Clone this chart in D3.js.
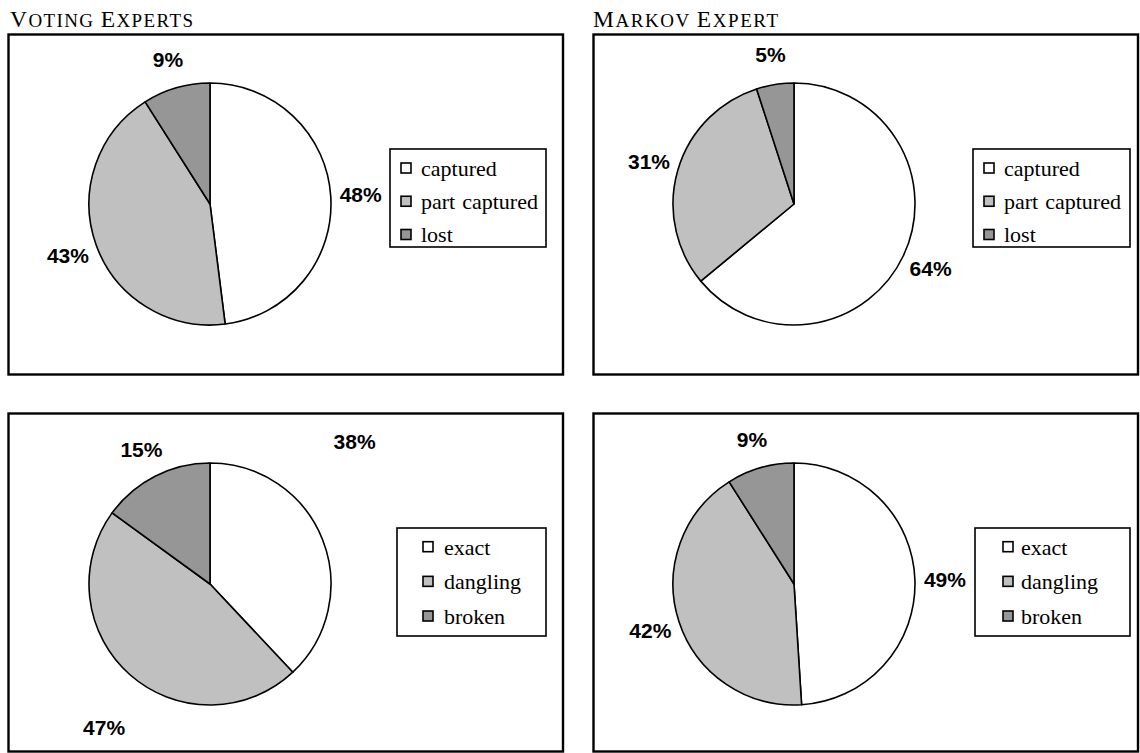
<!DOCTYPE html>
<html>
<head>
<meta charset="utf-8">
<script src="https://cdn.jsdelivr.net/npm/d3@7"></script>
<style>
  body { margin: 0; background: #fff; }
  svg { display: block; }
</style>
</head>
<body>
<div id="chart"></div>
<script>
// data
const columnTitles = ["Voting Experts", "Markov Expert"];
const topCategories = ["captured", "part captured", "lost"];
const bottomCategories = ["exact", "dangling", "broken"];
const votingTop = [48, 43, 9];
const markovTop = [64, 31, 5];
const votingBottom = [38, 47, 15];
const markovBottom = [49, 42, 9];

const width = 1140;
const height = 753;
const radius = 121;
const sliceColors = ["#ffffff", "#c0c0c0", "#969696"];

const svg = d3.select('#chart')
    .append('svg')
    .attr('width', width)
    .attr('height', height)
    .attr('viewBox', [0, 0, width, height]);

// one entry per chart frame
const panels = [
    { values: votingTop, cats: topCategories,
      box: [8.5, 34.5, 563, 374.5], center: [210, 204],
      legend: { x: 390, y: 149, w: 156, h: 98, sw: 11, tx: 31, rows: [19, 85.5] } },
    { values: markovTop, cats: topCategories,
      box: [593.5, 34.5, 1138, 374.5], center: [794, 204],
      legend: { x: 973, y: 149, w: 157, h: 98, sw: 11, tx: 31, rows: [19, 85.5] } },
    { values: votingBottom, cats: bottomCategories,
      box: [8.5, 413.5, 563, 751.5], center: [210, 584],
      legend: { x: 397, y: 528, w: 149, h: 108, sw: 26, tx: 47, rows: [18.7, 88] },
      nudge: { 0: [45.4, 203], 1: [216.5, 178] } },
    { values: markovBottom, cats: bottomCategories,
      box: [593.5, 413.5, 1138, 751.5], center: [794, 584],
      legend: { x: 975, y: 528, w: 155, h: 108, sw: 28, tx: 46, rows: [18.7, 88] } }
];

const pie = d3.pie().sort(null).value(d => d);
const arc = d3.arc().innerRadius(0).outerRadius(radius);
const color = d3.scaleOrdinal().range(sliceColors);

// column titles in small caps
const titleX = [10, 593];
columnTitles.forEach((t, i) => {
    const words = t.split(' ');
    const txt = svg.append('text')
        .attr('x', titleX[i])
        .attr('y', 26.5)
        .attr('font-family', '"Liberation Serif", "Times New Roman", serif')
        .attr('fill', '#000')
        .attr('textLength', i === 0 ? 183 : 185)
        .attr('lengthAdjust', 'spacing');
    words.forEach((w, j) => {
        txt.append('tspan').attr('font-size', 23.5).text(w[0]);
        txt.append('tspan').attr('font-size', 19)
            .text(w.slice(1).toUpperCase() + (j < words.length - 1 ? ' ' : ''));
    });
});

panels.forEach(p => {
    const [x0, y0, x1, y1] = p.box;
    svg.append('rect')
        .attr('x', x0).attr('y', y0)
        .attr('width', x1 - x0).attr('height', y1 - y0)
        .attr('fill', 'none').attr('stroke', '#000').attr('stroke-width', 2.4);

    const g = svg.append('g').attr('transform', `translate(${p.center})`);
    const arcs = pie(p.values);
    color.domain(p.cats);

    g.selectAll('path')
        .data(arcs)
        .join('path')
        .attr('d', arc)
        .attr('fill', (d, i) => color(p.cats[i]))
        .attr('stroke', '#000')
        .attr('stroke-width', 1.6)
        .attr('stroke-linejoin', 'round');

    g.selectAll('text.lbl')
        .data(arcs)
        .join('text')
        .attr('class', 'lbl')
        .attr('transform', (d, i) => {
            let a = (d.startAngle + d.endAngle) / 2;
            let r = 151;
            if (p.nudge && p.nudge[i]) {
                a = p.nudge[i][0] * Math.PI / 180;
                r = p.nudge[i][1];
            }
            return `translate(${r * Math.sin(a)},${-r * Math.cos(a)})`;
        })
        .attr('text-anchor', 'middle')
        .attr('dy', '0.36em')
        .attr('font-family', '"Liberation Sans", Arial, sans-serif')
        .attr('font-weight', 'bold')
        .attr('font-size', 21)
        .text(d => d.data + '%');

    // legend
    const L = p.legend;
    const lg = svg.append('g').attr('transform', `translate(${L.x},${L.y})`);
    lg.append('rect')
        .attr('width', L.w).attr('height', L.h)
        .attr('fill', '#fff').attr('stroke', '#000').attr('stroke-width', 1.6);
    const row = d3.scalePoint().domain(p.cats).range(L.rows);
    const item = lg.selectAll('g.item')
        .data(p.cats)
        .join('g')
        .attr('class', 'item')
        .attr('transform', d => `translate(0,${row(d)})`);
    item.append('rect')
        .attr('x', L.sw).attr('y', -5)
        .attr('width', 10).attr('height', 10)
        .attr('fill', d => color(d))
        .attr('stroke', '#000').attr('stroke-width', 1.6);
    item.append('text')
        .attr('x', L.tx)
        .attr('dy', '0.36em')
        .attr('font-family', '"Liberation Serif", "Times New Roman", serif')
        .attr('font-size', 22)
        .attr('word-spacing', 1.5)
        .text(d => d);
});

svg.node();
</script>
</body>
</html>
